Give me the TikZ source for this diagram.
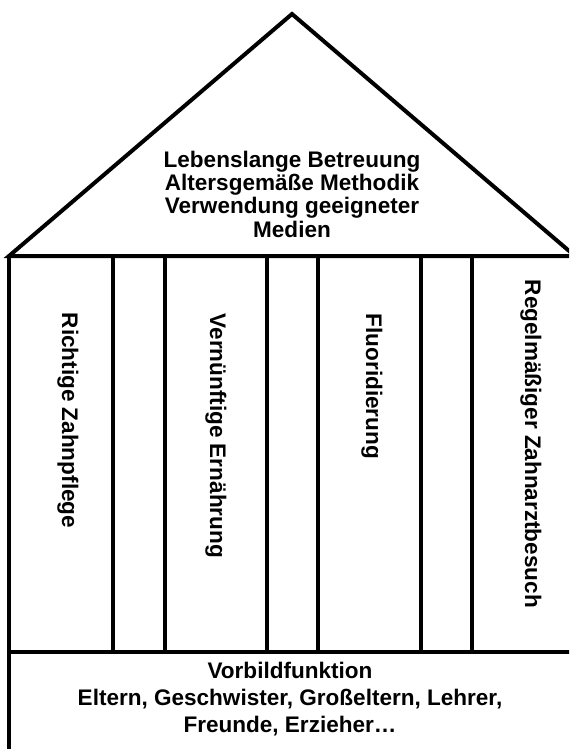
\documentclass[tikz,border=0pt]{standalone}
\usepackage{fontspec}
\setmainfont{Liberation Sans}

\begin{document}
\begin{tikzpicture}[x=0.75pt, y=0.75pt,
    wall/.style={line width=3pt},
    housetext/.style={font=\fontsize{16.9}{17.5}\selectfont\bfseries, align=center, inner sep=0pt},
    pillartext/.style={font=\fontsize{16.9}{17.5}\selectfont\bfseries, rotate=-90, anchor=west, inner sep=0pt}]
      \useasboundingbox (0,0) rectangle (569,-749);
      \clip (0,0) rectangle (569,-749);

      % roof, walls and pillars
      \draw[wall] (9,-256) -- (292,-14) -- (575,-256) -- cycle;
      \draw[wall] (9,-256) -- (9,-770);
      \draw[wall] (575,-256) -- (575,-770);
      \draw[wall] (9,-652) -- (575,-652);
      \foreach \x in {113,165,267,318,421,472}
        \draw[wall] (\x,-256) -- (\x,-652);

      \node[housetext] (roof) at (292,-194) {Lebenslange Betreuung\\Altersgemäße Methodik\\Verwendung geeigneter\\Medien};
      \node[housetext, font=\fontsize{16.9}{20.25}\selectfont\bfseries] (base) at (290,-699.5) {Vorbildfunktion\\Eltern, Geschwister, Großeltern, Lehrer,\\Freunde, Erzieher…};

      \node[pillartext] (pflege) at (68,-312.5) {Richtige Zahnpflege};
      \node[pillartext] (ernaehrung) at (216,-313.5) {Vernünftige Ernährung};
      \node[pillartext] (fluorid) at (372,-313.5) {Fluoridierung};
      \node[pillartext] (zahnarzt) at (531,-279.5) {Regelmäßiger Zahnarztbesuch};
    \end{tikzpicture}
\end{document}
